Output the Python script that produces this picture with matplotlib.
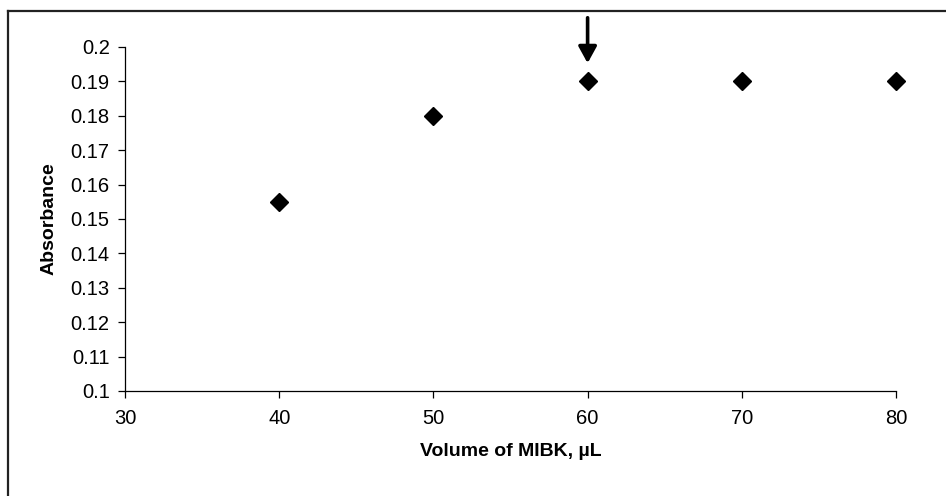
import matplotlib
matplotlib.use("Agg")
import matplotlib.pyplot as plt
from matplotlib.lines import Line2D
from matplotlib.ticker import FuncFormatter, MultipleLocator

plt.rcParams['font.family'] = ['Liberation Sans', 'DejaVu Sans']

# Data
volume_ul = [40, 50, 60, 70, 80]
absorbance = [0.155, 0.18, 0.19, 0.19, 0.19]
x_ticks = [30, 40, 50, 60, 70, 80]
optimum_volume = 60
optimum_abs = 0.19

W, H = 946, 496
fig = plt.figure(figsize=(W / 100, H / 100), dpi=100)
fig.patch.set_facecolor('white')

ax = fig.add_axes([125 / W, (H - 391) / H, (896 - 125) / W, (391 - 47) / H])

ax.plot(volume_ul, absorbance, linestyle='none', marker='D', markersize=9.5,
        color='black', clip_on=False, zorder=3)

ax.set_xlim(30, 80)
ax.set_ylim(0.1, 0.2)
ax.set_xticks(x_ticks)
ax.yaxis.set_major_locator(MultipleLocator(0.01))
ax.yaxis.set_major_formatter(FuncFormatter(lambda v, p: f"{round(v, 3):g}"))

for s in ['top', 'right']:
    ax.spines[s].set_visible(False)
for s in ['left', 'bottom']:
    ax.spines[s].set_linewidth(0.9)
    ax.spines[s].set_color('black')

ax.tick_params(axis='both', direction='out', length=5, width=0.9, colors='black',
               labelsize=14.5)
ax.tick_params(axis='x', pad=8)
ax.tick_params(axis='y', pad=6)

ax.set_xlabel('Volume of MIBK, µL', fontsize=14, fontweight='bold')
ax.set_ylabel('Absorbance', fontsize=14, fontweight='bold')
ax.xaxis.set_label_coords(0.5, -0.15)
ax.yaxis.set_label_coords(-0.087, 0.5)

# Arrow marking the optimum
ax.annotate('', xy=(optimum_volume, optimum_abs + 0.0053),
            xytext=(optimum_volume, optimum_abs + 0.0185),
            arrowprops=dict(arrowstyle='-|>,head_width=0.55,head_length=1.0',
                            color='black', lw=2.6, shrinkA=0, shrinkB=0),
            annotation_clip=False)

# Outer chart frame (only left and top visible)
fig.add_artist(Line2D([8 / W, 8 / W], [0, (H - 11) / H], transform=fig.transFigure,
                      color='#222222', lw=1.6))
fig.add_artist(Line2D([8 / W, 1], [(H - 11) / H, (H - 11) / H], transform=fig.transFigure,
                      color='#222222', lw=1.6))

fig.savefig('out.png', dpi=100)
